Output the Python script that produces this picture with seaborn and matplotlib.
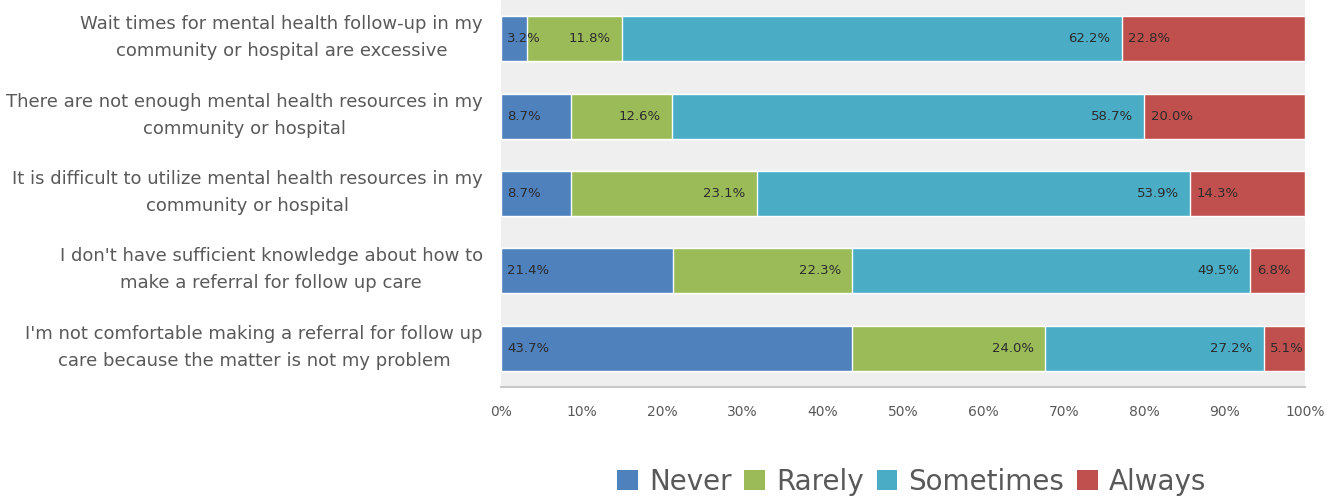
import numpy as np
import pandas as pd
import matplotlib
matplotlib.use("Agg")
import matplotlib.pyplot as plt
from matplotlib.patches import Patch
import matplotlib.transforms as mtransforms
import seaborn as sns

statements = [
    "Wait times for mental health follow-up in my\ncommunity or hospital are excessive",
    "There are not enough mental health resources in my\ncommunity or hospital",
    "It is difficult to utilize mental health resources in my\ncommunity or hospital",
    "I don't have sufficient knowledge about how to\nmake a referral for follow up care",
    "I'm not comfortable making a referral for follow up\ncare because the matter is not my problem",
]
never = [3.2, 8.7, 8.7, 21.4, 43.7]
rarely = [11.8, 12.6, 23.1, 22.3, 24.0]
sometimes = [62.2, 58.7, 53.9, 49.5, 27.2]
always = [22.8, 20.0, 14.3, 6.8, 5.1]
series_names = ["Never", "Rarely", "Sometimes", "Always"]
tick_values = [0, 10, 20, 30, 40, 50, 60, 70, 80, 90, 100]

colors = ["#4F81BD", "#9BBB59", "#4BACC6", "#C0504D"]

sns.set_theme(style="white")
plt.rcParams["font.family"] = ["DejaVu Sans"]

df = pd.DataFrame({"statement": statements, "Never": never, "Rarely": rarely,
                   "Sometimes": sometimes, "Always": always})
parts = df[series_names].to_numpy()
cum = np.cumsum(parts, axis=1)
for i, name in enumerate(series_names):
    df[name + "_end"] = cum[:, i]

fig = plt.figure(figsize=(13.35, 5.0), dpi=100)
ax = fig.add_axes([0.3753, 0.226, 0.6022, 0.774])
ax.set_facecolor("#efefef")

# stacked bars: draw cumulative totals from the widest down
for i in reversed(range(len(series_names))):
    sns.barplot(data=df, x=series_names[i] + "_end", y="statement", orient="h",
                color=colors[i], saturation=1, width=0.58, ax=ax)

# value labels
for r in range(len(statements)):
    for i, name in enumerate(series_names):
        val = parts[r, i]
        start = cum[r, i] - val
        end = cum[r, i]
        txt = f"{val:.1f}%"
        if i in (0, 3):
            ax.text(start + 0.8, r, txt, ha="left", va="center", fontsize=9.5, color="#2b2b2b")
        else:
            ax.text(end - 1.4, r, txt, ha="right", va="center", fontsize=9.5, color="#2b2b2b")

ax.set_xlim(0, 100)
ax.set_ylim(4.5, -0.5)
ax.set_xticks(tick_values)
ax.set_xticklabels([f"{v}%" for v in tick_values], fontsize=10, color="#595959")
ax.set_xlabel("")
ax.set_ylabel("")

# category labels, centred two-line blocks right-aligned beside the bars
ax.set_yticklabels([])
ax.tick_params(axis="y", length=0)
lift = mtransforms.offset_copy(ax.get_yaxis_transform(), fig=fig, x=0, y=1, units="dots")
for r, s in enumerate(statements):
    ax.text(-0.0225, r, s, transform=lift, ha="right", va="center",
            multialignment="center", fontsize=13, color="#595959", linespacing=1.65)

ax.tick_params(axis="x", length=4, color="#bfbfbf", pad=9)

for s in ["top", "right", "left"]:
    ax.spines[s].set_visible(False)
ax.spines["bottom"].set_color("#c8c8c8")
ax.spines["bottom"].set_linewidth(1.5)

handles = [Patch(facecolor=c, edgecolor="none") for c in colors]
fig.legend(handles, series_names, loc="center", bbox_to_anchor=(0.683, 0.036),
           ncol=4, frameon=False, fontsize=20, handlelength=0.75, handleheight=0.75,
           handletextpad=0.4, columnspacing=0.45, labelcolor="#595959")

fig.savefig("out.png", dpi=100, facecolor="white")
